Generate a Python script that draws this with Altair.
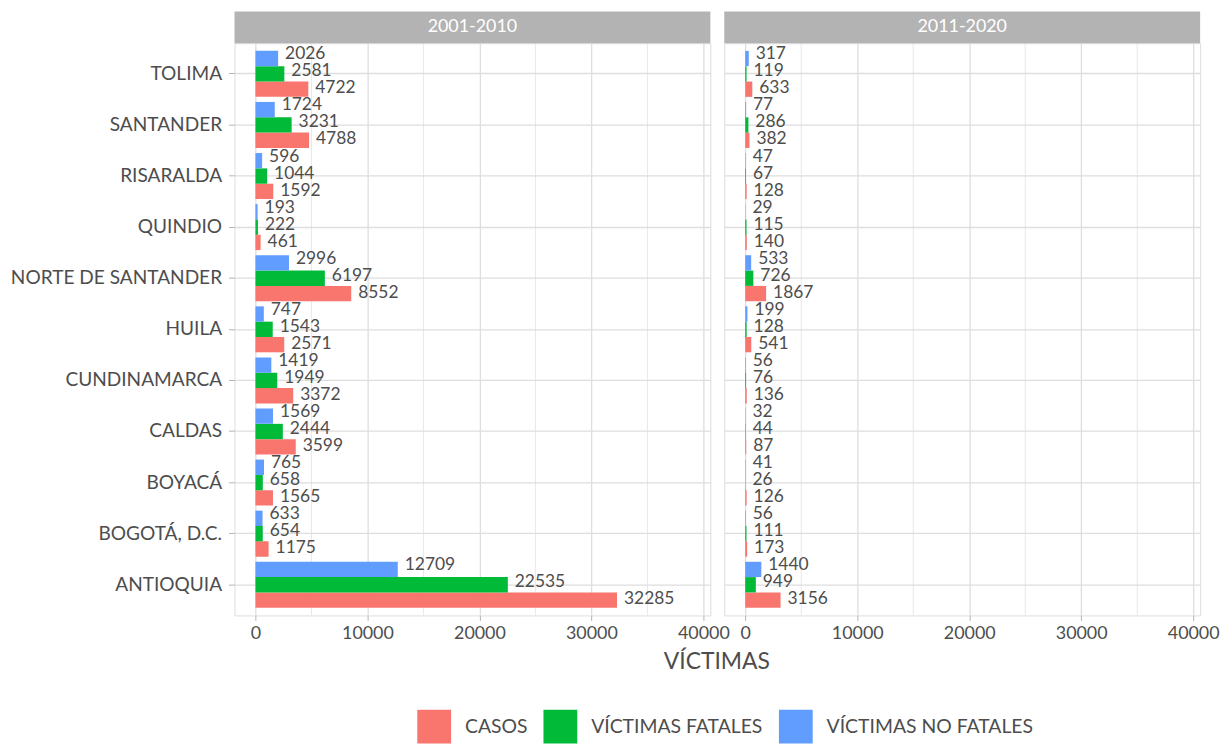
import altair as alt
import pandas as pd

departamentos = ["TOLIMA", "SANTANDER", "RISARALDA", "QUINDIO", "NORTE DE SANTANDER",
                 "HUILA", "CUNDINAMARCA", "CALDAS", "BOYACÁ", "BOGOTÁ, D.C.", "ANTIOQUIA"]
periodos = ["2001-2010", "2011-2020"]
series = ["CASOS", "VÍCTIMAS FATALES", "VÍCTIMAS NO FATALES"]
colores = ["#F8766D", "#00BA38", "#619CFF"]

casos_2001 = [4722, 4788, 1592, 461, 8552, 2571, 3372, 3599, 1565, 1175, 32285]
fatales_2001 = [2581, 3231, 1044, 222, 6197, 1543, 1949, 2444, 658, 654, 22535]
no_fatales_2001 = [2026, 1724, 596, 193, 2996, 747, 1419, 1569, 765, 633, 12709]

casos_2011 = [633, 382, 128, 140, 1867, 541, 136, 87, 126, 173, 3156]
fatales_2011 = [119, 286, 67, 115, 726, 128, 76, 44, 26, 111, 949]
no_fatales_2011 = [317, 77, 47, 29, 533, 199, 56, 32, 41, 56, 1440]

ticks_major = [0, 10000, 20000, 30000, 40000]
ticks_minor = [5000, 15000, 25000, 35000]

datos = {
    "2001-2010": [casos_2001, fatales_2001, no_fatales_2001],
    "2011-2020": [casos_2011, fatales_2011, no_fatales_2011],
}
rows = []
for p in periodos:
    for s, vals in zip(series, datos[p]):
        for d, v in zip(departamentos, vals):
            rows.append({"periodo": p, "serie": s, "departamento": d, "valor": v})
df = pd.DataFrame(rows)

W, H = 479, 576
TXT = "#4d4d4d"
GRID = "#dedede"
FONT = "Lato"
# vertical shift of the value labels of each series (labels dodge a bit wider than bars)
label_dy = {"VÍCTIMAS NO FATALES": -4.2, "VÍCTIMAS FATALES": -2.5, "CASOS": -0.8}


def panel(periodo, first):
    d = df[df.periodo == periodo]
    xsc = alt.Scale(domain=[-1870, 40620], nice=False, zero=False)
    ysc = alt.Scale(domain=departamentos, paddingInner=0, paddingOuter=0.1)
    xaxis_kw = dict(values=ticks_major, format="d", grid=True, gridColor=GRID, gridWidth=1.3,
                    ticks=True, tickColor="#b3b3b3", tickSize=5, domain=False, labelFlush=False,
                    labelFontSize=18, labelColor=TXT, labelPadding=4, labelFont=FONT)
    if first:
        xaxis_kw.update(title="VÍCTIMAS", titleX=485, titleY=46, titleBaseline="middle",
                        titleFontSize=23, titleFontWeight="normal", titleColor=TXT, titleFont=FONT)
    else:
        xaxis_kw.update(title=None)
    xaxis = alt.Axis(**xaxis_kw)
    if first:
        yaxis = alt.Axis(title=None, bandPosition=0.5, grid=True, gridColor=GRID, gridWidth=1.3,
                         ticks=True, tickColor="#b3b3b3", tickSize=6, domain=False,
                         labelFontSize=19.2, labelColor=TXT, labelPadding=7, labelFont=FONT,
                         labelLimit=400, minExtent=227, maxExtent=227)
    else:
        yaxis = alt.Axis(title=None, bandPosition=0.5, grid=True, gridColor=GRID, gridWidth=1.3,
                         ticks=False, labels=False, domain=False)

    X = lambda f: alt.X(f, scale=xsc, axis=xaxis)
    Y = alt.Y("departamento:N", scale=ysc, axis=yaxis, sort=departamentos)
    YO = alt.YOffset("serie:N", sort=series[::-1],
                     scale=alt.Scale(domain=series[::-1], paddingInner=0, paddingOuter=1 / 6))

    minor = alt.Chart(pd.DataFrame({"valor": ticks_minor})).mark_rule(
        color=GRID, strokeWidth=0.7).encode(x=X("valor:Q"))

    color_kw = dict(scale=alt.Scale(domain=series, range=colores))
    if first:
        color_kw["legend"] = alt.Legend(title=None, orient="none", legendX=184, legendY=671,
                                        direction="horizontal", symbolType="square",
                                        symbolSize=1156, symbolStrokeWidth=0, symbolOpacity=1,
                                        labelFontSize=19.5, labelColor=TXT, labelFont=FONT,
                                        labelLimit=400, labelOffset=14, columnPadding=16)
    else:
        color_kw["legend"] = None

    bars = alt.Chart(d).mark_bar().encode(
        x=X("valor:Q"), y=Y, yOffset=YO,
        color=alt.Color("serie:N", **color_kw),
    )
    label_layers = []
    for s in series:
        label_layers.append(
            alt.Chart(d[d.serie == s]).mark_text(
                align="left", baseline="middle", dx=7, dy=label_dy[s],
                fontSize=17.5, color=TXT, font=FONT).encode(
                x=X("valor:Q"), y=Y, yOffset=YO,
                text=alt.Text("valor:Q", format="d"),
            )
        )
    strip_df = pd.DataFrame({"periodo": [periodo]})
    strip = alt.Chart(strip_df).mark_rect(color="#b3b3b3").encode(
        x=alt.value(0), x2=alt.value(W), y=alt.value(-32), y2=alt.value(0))
    strip_txt = alt.Chart(strip_df).mark_text(color="white", fontSize=18, font=FONT,
                                              baseline="middle").encode(
        x=alt.value(W / 2), y=alt.value(-16), text="periodo:N")

    return alt.layer(minor, bars, *label_layers, strip, strip_txt).properties(width=W, height=H)


chart = alt.hconcat(panel(periodos[0], True), panel(periodos[1], False),
                    spacing=14, bounds="flush", padding=0).resolve_scale(
    x="independent", y="independent", color="shared"
).configure_view(stroke="#b3b3b3", strokeWidth=1.6).configure(font=FONT)

chart.save("out.html", embed_options={"renderer": "svg", "actions": False})
